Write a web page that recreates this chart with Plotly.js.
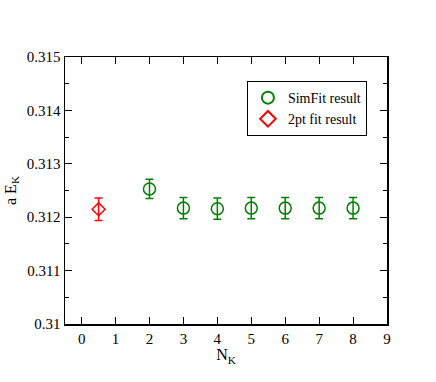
<!DOCTYPE html>
<html>
<head>
<meta charset="utf-8">
<script src="https://cdn.plot.ly/plotly-3.0.1.min.js"></script>
<style>
  html, body { margin: 0; padding: 0; background: #fff; }
  #plot { width: 436px; height: 382px; }
</style>
</head>
<body>
<div id="plot"></div>
<script>
// SimFit result per N_K
const simN = [2, 3, 4, 5, 6, 7, 8];
const simE = [0.31253, 0.31217, 0.31216, 0.31217, 0.31217, 0.31217, 0.31217];
const simErr = [0.00018, 0.0002, 0.0002, 0.0002, 0.0002, 0.0002, 0.0002];

// 2pt fit result
const twoptN = [0.5];
const twoptE = [0.31215];
const twoptErr = [0.00021];

const xTicks = [0, 1, 2, 3, 4, 5, 6, 7, 8, 9];
const yTicks = [0.31, 0.311, 0.312, 0.313, 0.314, 0.315];
const yTickText = ['0.31', '0.311', '0.312', '0.313', '0.314', '0.315'];

const serif = 'Liberation Serif';

const traces = [
  {
    type: 'scatter',
    mode: 'markers',
    name: 'SimFit result',
    x: simN,
    y: simE,
    error_y: { type: 'data', array: simErr, color: '#008000', thickness: 1.5, width: 4 },
    marker: { symbol: 'circle-open', size: 12, color: '#008000', line: { width: 1.5, color: '#008000' } }
  },
  {
    type: 'scatter',
    mode: 'markers',
    name: '2pt fit result',
    x: twoptN,
    y: twoptE,
    error_y: { type: 'data', array: twoptErr, color: '#ff0000', thickness: 1.5, width: 4 },
    marker: { symbol: 'diamond-open', size: 10, color: '#ff0000', line: { width: 1.5, color: '#ff0000' } }
  }
];

const layout = {
  width: 436,
  height: 382,
  margin: { l: 65, r: 49, t: 57, b: 58 },
  paper_bgcolor: '#fff',
  plot_bgcolor: '#fff',
  font: { family: serif, size: 14, color: '#000' },
  showlegend: true,
  legend: {
    x: 0.565, y: 0.91, xanchor: 'left', yanchor: 'top',
    bgcolor: '#fff', bordercolor: '#000', borderwidth: 1,
    font: { family: serif, size: 14 },
    tracegroupgap: 0, itemwidth: 30,
    itemsizing: 'constant'
  },
  xaxis: {
    range: [-0.49, 9],
    tickvals: xTicks,
    ticks: 'inside', ticklen: 7, tickcolor: '#000',
    showline: true, linecolor: '#000', linewidth: 1.5, mirror: 'ticks',
    showgrid: false, zeroline: false,
    tickfont: { family: serif, size: 15 },
    title: { text: 'N<sub>K</sub>', font: { family: serif, size: 16 }, standoff: 0 }
  },
  yaxis: {
    range: [0.31, 0.315],
    tickvals: yTicks,
    ticktext: yTickText,
    ticks: 'inside', ticklen: 7, tickcolor: '#000',
    minor: { dtick: 0.0005, ticks: 'inside', ticklen: 4, tickcolor: '#000', showgrid: false },
    showline: true, linecolor: '#000', linewidth: 1.5, mirror: 'ticks',
    showgrid: false, zeroline: false,
    tickfont: { family: serif, size: 15 },
    title: { text: 'a E<sub>K</sub>', font: { family: serif, size: 16 }, standoff: 6 }
  }
};

Plotly.newPlot('plot', traces, layout, { displayModeBar: false, staticPlot: true });
</script>
</body>
</html>
